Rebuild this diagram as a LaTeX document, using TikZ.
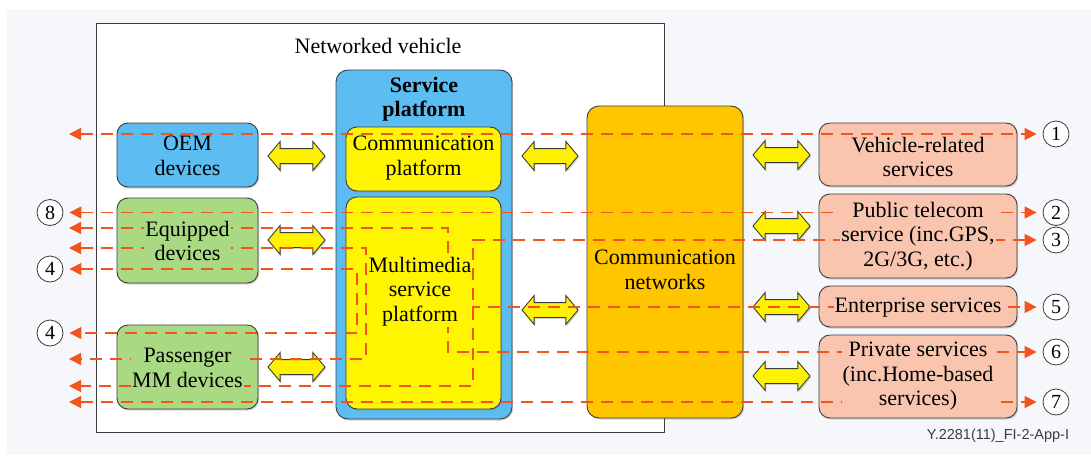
\documentclass[tikz,border=0pt]{standalone}
\usepackage{fontspec}
\setmainfont{Liberation Serif}
\newfontfamily\figsans{Liberation Sans}
\usetikzlibrary{arrows.meta,shapes.arrows,shadows}

\definecolor{bg}{HTML}{F6F7FB}
\definecolor{oemblue}{HTML}{5BBDF1}
\definecolor{devgreen}{HTML}{A9D983}
\definecolor{platyellow}{HTML}{FFF500}
\definecolor{netorange}{HTML}{FFC600}
\definecolor{svcsalmon}{HTML}{F9C5AF}
\definecolor{flowred}{HTML}{F2541B}
\definecolor{edge}{HTML}{3C3C3C}

\begin{document}
\begin{tikzpicture}[x=1pt,y=-1pt,
  font=\fontsize{22}{24.5}\selectfont,
  >={Triangle[length=12pt,width=12pt]},
  shade box/.style={drop shadow={shadow xshift=1.2pt,shadow yshift=-1.5pt,opacity=0.35}},
  rbox/.style={draw=edge,line width=0.9pt,rounded corners=11pt,inner sep=0pt,shade box},
  label text/.style={inner sep=1pt,align=center},
  link/.style={double arrow,draw=edge,fill=yellow,line width=0.9pt,inner sep=0pt,
    text height=7pt,text depth=7pt,double arrow head extend=7pt,
    double arrow tip angle=100,minimum height=57pt,shade box},
  flow/.style={draw=flowred,line width=1.4pt,dash pattern=on 12pt off 8pt},
  num/.style={circle,draw=edge,fill=white,line width=0.8pt,minimum size=26pt,
    inner sep=0pt,font=\fontsize{20}{20}\selectfont}]

% canvas
\useasboundingbox (0,0) rectangle (1091,455);
\fill[bg] (0,0) rectangle (1091,455);
\fill[white] (0,0) rectangle (1091,9);
\fill[white] (0,0) rectangle (7,455);

% networked vehicle frame
\node[draw=edge,line width=1pt,fill=white,inner sep=0pt,minimum width=568pt,minimum height=409pt] (veh) at (380,227.5) {};
\node[label text] (vehtitle) at (378,46) {Networked vehicle};

% service platform and its parts
\node[rbox,fill=oemblue,rounded corners=12pt,minimum width=176pt,minimum height=349pt] (svc) at (424,244.5) {};
\node[label text] (svctitle) at (424,99) {\textbf{Service}\\\textbf{platform}};
\node[rbox,fill=platyellow,minimum width=155pt,minimum height=64pt] (cplat) at (423.5,159) {};
\node[rbox,fill=platyellow,minimum width=155pt,minimum height=212pt] (mmsp) at (423.5,303) {};

% in-vehicle devices
\node[rbox,fill=oemblue,minimum width=141pt,minimum height=64pt] (oem) at (187.5,155) {};
\node[rbox,fill=devgreen,minimum width=141pt,minimum height=85pt] (equip) at (187.5,240.5) {};
\node[rbox,fill=devgreen,minimum width=141pt,minimum height=84pt] (pass) at (187.5,367) {};

% communication networks
\node[rbox,fill=netorange,rounded corners=12pt,minimum width=156pt,minimum height=312pt] (net) at (665,262) {};

% external services
\node[rbox,fill=svcsalmon,minimum width=198pt,minimum height=63pt] (vrs) at (918,154.5) {};
\node[rbox,fill=svcsalmon,minimum width=198pt,minimum height=84pt] (pub) at (918,236) {};
\node[rbox,fill=svcsalmon,minimum width=198pt,minimum height=41pt] (ent) at (918,306.5) {};
\node[rbox,fill=svcsalmon,minimum width=198pt,minimum height=83pt] (priv) at (918,376.5) {};

% interface arrows
\node[link] (a1) at (296.5,156) {};
\node[link] (a2) at (296.5,240) {};
\node[link] (a3) at (296.5,367) {};
\node[link,minimum height=56pt] (a4) at (550,156) {};
\node[link,minimum height=56pt] (a5) at (550,310) {};
\node[link] (a6) at (781.5,155) {};
\node[link] (a7) at (781.5,226) {};
\node[link] (a8) at (781.5,307) {};
\node[link] (a9) at (781.5,376) {};

% numbered end points
\node[num] (c1) at (1056,134) {1};
\node[num] (c2) at (1056,212.5) {2};
\node[num] (c3) at (1056,240) {3};
\node[num] (c5) at (1056,307) {5};
\node[num] (c6) at (1056,352) {6};
\node[num] (c7) at (1056,402) {7};
\node[num] (c8) at (50,212.5) {8};
\node[num] (c4a) at (50,269) {4};
\node[num] (c4b) at (50,333) {4};

% free ends and bends of the service flows
\coordinate (L134) at (69,134);
\coordinate (L228) at (69,228);
\coordinate (L248) at (69,248);
\coordinate (L359) at (69,359);
\coordinate (L386) at (69,386);
\coordinate (L402) at (69,402);
\coordinate (T6) at (448,352);
\coordinate (T5) at (448,307);
\coordinate (K4) at (366,359);
\coordinate (K5) at (357,333);
\coordinate (K3) at (473,386);

% service flows
\draw[flow,<->,shorten >=6pt] (L134) -- (c1);
\draw[flow,<->,shorten <=6pt,shorten >=6pt] (c8) -- (c2);
\draw[flow,<->,shorten >=6pt] (L228) -| (T6) -- (c6);
\draw[flow,->,shorten >=6pt] (T5) -- (c5);
\draw[flow,<->] (L248) -| (K4) -- (L359);
\draw[flow,<->,shorten <=6pt,shorten >=6pt] (c4a) -| (K5) -- (c4b);
\draw[flow,<->,shorten <=6pt] (c3) -| (K3) -- (L386);
\draw[flow,<->,shorten >=6pt] (L402) -- (c7);

% box labels
\node[label text,fill=platyellow] (cplattext) at (423.5,158) {Communication\\platform};
\node[label text,fill=platyellow] (mmsptext) at (420,291.5) {Multimedia\\service\\platform};
\node[label text,fill=oemblue] (oemtext) at (187.5,156) {OEM\\devices};
\node[label text,fill=devgreen] (equiptext) at (187.5,241) {Equipped\\devices};
\node[label text,fill=devgreen] (passtext) at (187.5,368) {Passenger\\MM devices};
\node[label text,fill=netorange] (nettext) at (665,270) {Communication\\networks};
\node[label text,fill=svcsalmon] (vrstext) at (918,157) {Vehicle-related\\services};
\node[label text,fill=svcsalmon] (pubtext) at (918,236.5) {Public telecom\\service (inc.GPS,\\2G/3G, etc.)};
\node[label text,fill=svcsalmon] (enttext) at (918,307.5) {Enterprise services};
\node[label text,fill=svcsalmon] (privtext) at (918,376.5) {Private services\\(inc.Home-based\\services)};

% figure reference
\node[inner sep=0pt,text=edge,font=\figsans\fontsize{14.5}{14.5}\selectfont] (figref) at (998,436) {Y.2281(11)\_FI-2-App-I};
\end{tikzpicture}
\end{document}
